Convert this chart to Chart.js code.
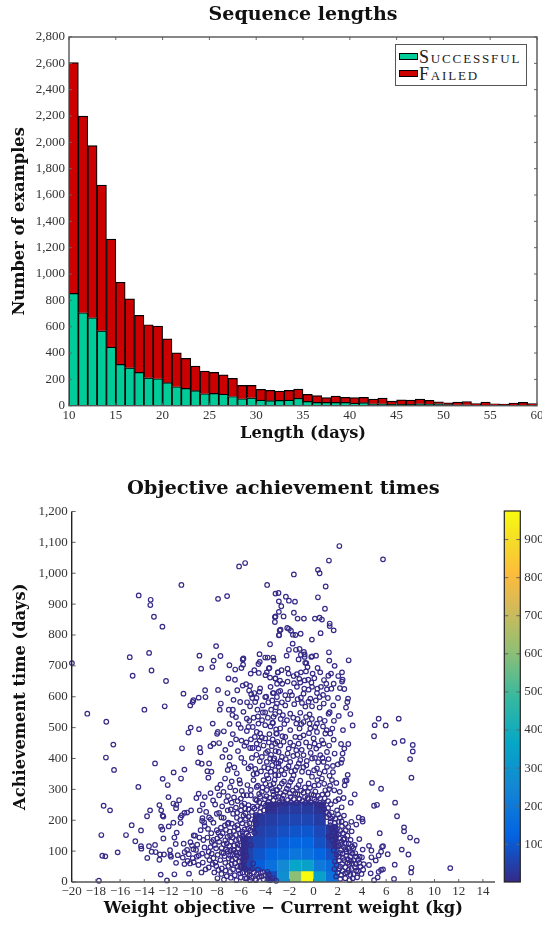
<!DOCTYPE html>
<html>
<head>
<meta charset="utf-8">
<title>Sequence lengths</title>
<script src="https://cdn.jsdelivr.net/npm/chart.js@4/dist/chart.umd.min.js"></script>
<style>
  html, body { margin: 0; padding: 0; background: #fff; overflow: hidden; }
  canvas { position: absolute; }
  #legend {
    position: absolute; left: 395px; top: 44px; width: 130px; height: 40px;
    border: 1px solid #555; background: #fff; padding: 0;
    font: 18px "Liberation Serif", serif; font-variant: small-caps; letter-spacing: 1.85px; color: #222;
  }
  #legend div { position: absolute; left: 3px; height: 20px; line-height: 20px; white-space: nowrap; }
  #legend i { display: inline-block; width: 17px; height: 5px; border: 1px solid #000; margin-right: 1px; vertical-align: 3px; }
</style>
</head>
<body>
<canvas id="lengthsChart" width="542" height="444" style="left:0;top:0;width:542px;height:444px"></canvas>
<div id="legend"></div>
<canvas id="timesChart" width="542" height="459" style="left:0;top:460px;width:542px;height:459px"></canvas>
<canvas id="colorbarChart" width="47" height="381" style="left:495px;top:506px;width:47px;height:381px"></canvas>
<script>
// Sequence lengths (days, bar starts at the value)
const lengthDays = [10,11,12,13,14,15,16,17,18,19,20,21,22,23,24,25,26,27,28,29,30,31,32,33,34,35,36,37,38,39,40,41,42,43,44,45,46,47,48,49,50,51,52,53,54,55,56,57,58,59];
const successful = [853,706,668,569,445,314,288,253,212,205,175,144,131,114,91,93,88,70,53,60,43,38,40,43,56,33,25,25,25,25,20,23,15,15,10,10,10,15,12,15,8,7,7,5,5,3,3,3,5,3];
const failed = [1753,1494,1307,1106,820,623,524,433,403,400,333,258,228,187,172,160,147,137,101,94,81,78,71,73,70,53,51,36,48,38,41,40,35,43,25,35,33,35,28,15,14,21,25,12,23,12,9,17,20,13];
const seriesNames = ["Successful", "Failed"];
const seriesColors = ["#00cc99", "#cc0000"];
const lengthYTicks = [0,200,400,600,800,1000,1200,1400,1600,1800,2000,2200,2400,2600,2800];

// Objective achievement times: [weight difference (kg), time (days)]
const achievementPoints = [
[-19.98,709],[-15.2,728],[-14.96,668],[-14.46,928],[-13.47,914],[-13.5,897],[-13.2,859],[-12.5,827],[-13.6,742],[-13.4,685],[-12.2,651],[-10.93,962],[-10.76,610],[-9.44,733],[-9.3,691],[-8.37,696],[-8.26,717],[-8.06,764],[-7.7,732],[-7.9,917],[-7.15,926],[-6.16,1022],[-5.66,1033],[-3.84,962],[-3.15,934],[-2.9,936],[-2.87,909],[-2.87,875],[-3.2,858],[-3.15,860],[-3.2,842],[-2.8,815],[-2.87,799],[-3.6,770],[-4.47,738],[-4,727],[-3.8,727],[-3.34,727],[-3.3,717],[-4.45,713],[-4.56,706],[-5.8,724],[-5.86,721],[-5.83,704],[-5.97,693],[-5.2,675],[-4.9,686],[-4.53,677],[-3.65,693],[-3.7,692],[-3.87,679],[-3.98,670],[-3.6,662],[-3.15,659],[-2.96,679],[-7.04,659],[-6.5,655],[-5.58,641],[-5.25,635],[-5.33,620],[-5.16,608],[-4.42,627],[-4.47,616],[-4,599],[-3.92,600],[-3.37,612],[-2.9,616],[-7.9,622],[-8.97,621],[-8.94,599],[-9.5,597],[-9.94,589],
[2.13,1088],[5.74,1045],[1.27,1041],[0.36,1011],[0.5,1000],[-1.63,996],[1,957],[-2.29,924],[-2.04,911],[-1.54,908],[0.36,922],[-2.67,893],[-1.63,872],[0.94,885],[-2.48,860],[-1.32,853],[-0.8,853],[0.11,853],[0.5,856],[0.69,850],[1.33,837],[1.33,829],[1.66,815],[0.58,806],[-0.14,785],[-2.18,823],[-2.04,820],[-1.87,814],[-2.73,817],[-2.84,800],[-1.71,801],[-1.5,800],[-1.07,804],[-1.73,772],[-2.04,752],[-1.46,752],[-1.16,755],[-0.8,745],[-2.23,733],[-1.05,736],[-0.74,737],[-0.74,729],[-0.19,729],[-0.13,731],[0.2,733],[-1.24,721],[1.27,744],[1.3,717],[2.9,718],[-0.69,710],[-0.6,709],[1.74,700],[0.33,693],[0.55,679],[1.44,675],[2.35,679],[2.04,667],[2.4,655],[2.35,649],[1.05,642],[0.61,632],[1.1,624],[1.47,626],[2.18,628],[2.54,625],[2.85,594],[-0.08,675],[0.31,626],[0.78,606],[-0.5,696],[-0.63,682],[-1.05,679],[-1.38,673],[-1.65,667],[-2.15,691],[-2.65,686],[-2.95,679],[-2.07,675],[-3.17,659],[-0.44,655],[-0.74,653],[-1.1,646],[-1.38,632],[-2.15,649],[-2.59,642],[-0.77,626],[-0.41,623],[-0.13,632],[-0.83,610],[0.28,612],[-1.93,616],[-2.34,605],[-3.3,612],[-2.76,619],[-1.05,597],[-0.27,594],[0.5,599],[-1.79,605],[-3.03,599],
[-18.71,545],[-17.14,519],[-16.56,445],[-17.17,403],[-16.5,363],[-14.49,308],[-17.36,247],[-16.83,232],[-17.55,152],[-17.47,85],[-17.22,83],[-16.2,96],[-17.75,4],[-15.04,184],[-15.51,152],[-14.27,167],[-14.74,132],[-13.99,558],[-12.31,569],[-10.2,572],[-10,583],[-10.35,484],[-10.16,500],[-9.47,495],[-8.34,513],[-7.92,486],[-7.98,480],[-7.81,450],[-8.28,448],[-8.53,440],[-10.88,433],[-9.41,434],[-9.36,420],[-7.54,405],[-6.93,404],[-13.11,384],[-9.55,387],[-9.25,383],[-8.64,384],[-6.96,379],[-10.68,364],[-11.57,355],[-8.78,359],[-8.45,357],[-7.1,363],[-8.7,338],[-12.48,334],[-10.96,335],[-12.06,314],[-7.7,315],[-7.95,304],[-6.9,307],[-9.5,286],[-9.69,272],[-9,275],[-7.81,281],[-12,275],[-11.12,265],[-11.59,254],[-11.35,250],[-11.37,239],[-12.75,249],[-12.6,232],[-13.52,232],[-13.77,213],[-12.48,215],[-12.42,212],[-9.17,251],[-8.14,251],[-7.56,245],[-10.9,216],[-10.68,224],[-11,209],[-10.46,225],[-10.13,232],[-8,221],[-7.81,224],[-7.1,232],[-6.85,235],[-6.65,221],[-6.32,224],[-9.19,207],[-9.22,198],[-8.64,209],[-8.5,203],[-7.62,209],[-7.43,208],[-11,191],[-11.59,192],[-9.05,193],[-8.28,192],[-7.04,192],[-9,181],[-12.61,179],[-12.5,170],[-11.98,180],[-11.32,160],[-11.51,144],[-12.42,141],[-11.4,123],[-10.74,124],[-13.61,116],[-13.11,120],[-14.27,116],[-14.24,108],[-13.39,98],[-13.06,97],[-13.75,78],[-12.75,72],[-12.7,89],[-12.37,89],[-11.87,103],[-11.84,87],[-11.79,82],[-11.23,87],[-11.37,62],[-10.82,79],[-10.68,58],[-10.32,90],[-10.18,129],[-9.91,151],[-9.8,150],[-9.94,106],[-9.99,77],[-9.66,82],[-9.5,86],[-10.21,60],[-9.91,64],[-9.52,55],[-12.64,24],[-11.51,25],[-12.12,5],[-10.3,27],[-9.27,31],[-9.44,144],[-9.11,136],[-8.78,144],[-8.42,130],[-8.06,109],[-8.67,98],[-8.61,71],[-8.28,77],[-8.34,58],[-8.67,47],[-7.87,39],[-7.59,44],[-7.45,93],[-8,168],[-7.87,160],[-7.7,149],[-7.18,125],[-8.28,136],[-7.18,19],[-6.9,33],[-6.74,71],[-6.63,103],[-6.41,136],[-7.1,188],[-6.3,184],[-6.08,157],[-6.24,109],[-6.07,82],[-6.3,50],[-6.07,28],[-5.66,12],[-5.25,6],[-4.83,9],
[-7.76,558],[-7.67,578],[-7.01,558],[-6.68,558],[-6.71,541],[-6.07,583],[-5.25,569],[-4.83,583],[-4.64,558],[-4.2,549],[-4,549],[-3.51,558],[-2.82,551],[-5.52,529],[-6.21,511],[-6.02,499],[-5.52,489],[-5.39,502],[-5.03,502],[-4.56,513],[-4,508],[-3.4,516],[-6.68,479],[-4.7,486],[-4.42,481],[-4.28,468],[-4,465],[-3.65,479],[-5.25,434],[-5.05,434],[-4.7,448],[-4.56,432],[-3.78,424],[-3.45,440],[-3.04,481],[-3.1,494],[-2.98,454],[-5.72,386],[-4.45,391],[-3.87,389],[-3.59,400],[-3.32,395],[-5.38,368],[-5.19,375],[-4.97,349],[-4.7,351],[-6.13,330],[-6.08,319],[-5.47,314],[-5.19,298],[-4.97,330],[-4.7,308],[-5.94,295],[-5.8,281],[-5.52,281],[-5.19,281],[-6.02,270],[-5.72,254],[-5.38,249],[-5.66,238],[-5.03,244],[-4.7,265],[-4.42,276],[-4.14,330],[-3.73,335],[-3.87,346],[-3.54,357],[-3.18,362],[-2.9,346],[-2.9,384],[-3.87,298],[-3.45,303],[-3.04,298],[-4.14,254],[-3.73,260],[-3.32,265],[-2.9,276],[-5.38,211],[-5.1,227],[-4.75,217],[-4.42,227],
[2.79,583],[2.68,565],[3.04,544],[5.38,529],[7.04,529],[5.05,508],[5.96,507],[3.23,507],[5,472],[2.43,492],[1.55,497],[6.68,451],[7.37,457],[8.2,444],[8.2,423],[7.98,398],[8.09,338],[2.87,447],[2.27,447],[2.54,432],[2.4,416],[1.66,461],[1.74,416],[2.35,397],[2.27,386],[2,381],[1.6,376],[1.6,356],[2.82,347],[2.73,329],[2.6,328],[1.88,321],[2.57,313],[1.52,330],[1.71,297],[1.16,285],[4.83,321],[5.58,302],[3.4,284],[3.07,257],[5,247],[5.24,250],[6.74,257],[6.9,213],[2.51,215],[2.02,219],[3.73,209],[4.03,204],[4.06,196],[3.12,195],[3.53,186],[2.35,181],[2.07,195],[1.8,179],[1.38,184],[3.15,164],[5.47,158],[7.48,177],[7.48,164],[7.98,144],[8.53,134],[3.78,139],[2.57,141],[2.07,155],[1.47,149],[3.18,115],[4.58,117],[4.78,102],[4.06,105],[5.66,114],[5.74,116],[5.58,98],[7.29,105],[6.13,90],[5.38,86],[7.84,89],[4.78,80],[5.14,70],[6.71,56],[8.09,46],[8.06,31],[11.3,45],[4.58,55],[5.74,41],[5.58,39],[5.38,33],[4.72,28],[5.3,15],[5,6],[6.65,10],[4.14,58],[3.81,82],[3.45,93],[3.31,71],[3.04,82],[3.87,50],[3.53,37],[3.18,60],[2.9,39],[3.04,23],[2.62,12],[2.27,23],[2.21,50],[2.54,71],[2.07,82],[1.66,103],[2.27,103],[2.71,98],[1.93,130],[1.52,136],[1.24,147],[2.98,6],[2.49,114],
[-3.03,578],[-2.34,572],[-1.6,576],[-0.96,580],[-0.13,569],[0.5,565],[1.33,550],[1.24,545],[-1.93,545],[-1.1,548],[-0.33,543],[-2.54,540],[-3.31,535],[-3.36,515],[-2.2,524],[-1.43,513],[-0.83,518],[-0.33,513],[0.28,513],[0.78,504],[-2.76,497],[-1.93,492],[-1.16,497],[-0.27,497],[0.28,486],[0.97,481],[1.38,481],[-3.09,481],[-2.34,470],[-1.51,470],[-0.83,475],[0,465],[0.69,459],[-3.17,448],[-2.48,454],[-1.93,451],[-1.24,448],[-0.33,438],[0.22,432],[1.11,421],[-2.89,421],[-2.15,416],[-1.43,427],[-0.83,411],[0.55,411],[-3.25,400],[-2.62,405],[-1.93,389],[-1.1,395],[-0.13,400],[0.83,389],[-2.89,373],[-2.07,375],[-1.38,373],[-0.6,378],[0.28,368],[1.11,373],[-3.17,346],[-2.42,349],[-1.65,346],[-0.96,357],[-0.13,341],[0.69,335],[-3.31,319],[-2.62,319],[-1.93,324],[-1.24,314],[-0.41,319],[0.42,314],[0.97,297],[-3.03,298],[-2.34,292],[-1.51,287],[-0.83,289],[0,281],[0.55,271],
[-4.5,285],[-3.9,278],[-3.3,283],[-2.6,270],[-1.9,275],[-1.2,268],[-0.5,272],[0.2,262],[0.8,255],[1.2,262],[-5.6,205],[-5.9,190],[-6.6,165],[-6.9,150],[-7.3,135],[-7.6,110],[-7.1,100],[-6.9,85],[-7.3,62],[-6.5,60],[-5.9,65],[-5.6,40],[-5.3,22],[-4.7,25],[-4.3,18],[-3.8,8],[-5.7,170],[-5.4,150],[-5.8,130],[-6.1,118],[-5.9,100],[-5.6,88],[-5.3,190],[-5,175],[-4.9,160],[-5.2,120],[-5,60],[-4.6,40],[-4.2,32],[-3.7,25],[-3.4,12],[-3.1,4],
[1.2,240],[1.5,225],[1.1,210],[1.8,205],[1.4,195],[2.2,165],[1.9,150],[2.8,150],[2.3,130],[2.9,125],[3.4,120],[2.7,85],[3.3,110],[2.4,92],[3,100],[3.7,72],[4,80],[3.5,58],[2.8,62],[2.4,36],[2.6,28],[3.3,25],[2.2,10],[3.6,15],[4.1,40],[1.9,115],[2.1,70],[1.9,55],[2,30],
// left side of the dense part
[-7.95,12],[-7.62,26],[-7.41,8],[-7.28,37],[-7.05,52],[-6.84,14],[-6.66,41],[-6.52,22],[-6.38,6],[-6.21,38],[-6.02,15],[-5.87,31],[-5.74,48],[-5.47,29],[-5.92,54],[-6.13,66],[-6.47,77],[-6.78,58],[-7.02,76],[-7.36,84],[-7.71,71],[-7.93,88],[-8.12,63],[-7.58,96],[-7.24,105],[-6.97,117],[-6.71,88],[-6.44,95],[-6.29,122],[-6.02,93],[-5.83,79],[-5.66,111],[-6.55,118],[-6.82,131],[-7.11,146],[-7.43,122],[-7.81,130],[-8.16,120],[-7.97,141],[-7.52,158],[-7.24,169],[-6.93,163],[-6.68,144],[-6.42,152],[-6.17,139],[-5.91,147],[-5.69,135],[-5.88,163],[-6.24,171],[-6.51,178],[-6.76,189],[-7.33,183],[-7.66,176],[-6.06,201],[-6.34,208],[-5.79,215],[-5.52,186],[-5.62,222],[-6.01,232],[-6.42,241],[-6.77,257],[-7.21,262],[-6.58,274],[-6.28,262],[-5.93,247],[-5.38,236],[-5.11,203],[-4.86,199],[-4.74,188],[-5.22,168],[-5.41,172],[-5.57,158],[-8.42,92],[-8.53,113],[-8.21,31],[-8.05,52],[-8.81,84],[-9.02,112],[-9.21,92],[-9.16,63],[-8.93,41],[-8.46,158],[-8.73,172],[-9.34,168],[-9.62,121],[-9.72,104],[-10.05,118],[-10.46,104],[-10.66,97],[-10.42,68],[-8.88,227],[-9.41,232],[-8.31,264],[-8.52,288],[-7.45,292],[-7.08,278],[-6.47,296],[-6.77,326],[-7.32,335],[-6.35,352],[-6.55,371],[-5.98,402],[-6.25,424],[-5.72,441],[-5.96,458],[-6.41,462],[-6.85,447],[-7.3,428],[-7.42,488],[-6.95,512],[-6.42,534],[-5.8,551],[-5.5,582],[-5.07,596],[-6.62,590],[-7.12,612],[-6.31,621],[-5.86,636],[-6.48,688],[-6.96,702],
[-5.14,14],[-4.92,31],[-4.76,6],[-4.52,17],[-4.36,29],[-4.14,9],[-3.98,21],[-3.82,33],[-3.58,6],[-5.52,12],[-5.31,36],[-5.08,42],[-5.72,68],[-5.58,82],[-5.82,94],[-5.64,102],[-5.78,118],[-5.62,126],[-5.84,141],[-6.05,48],[-6.32,86],[-6.58,104],[-6.86,102],
// top of the bell
[-4.9,238],[-4.62,246],[-4.38,241],[-4.12,232],[-3.94,248],[-3.71,238],[-3.46,251],[-3.28,240],[-3.06,252],[-2.84,257],[-2.58,262],[-2.35,254],[-2.12,266],[-1.88,258],[-1.64,268],[-1.41,256],[-1.18,270],[-0.92,262],[-0.68,256],[-0.44,268],[-0.22,258],[0.06,268],[0.34,252],[0.62,248],[0.88,236],[1.04,226],[1.28,218],[1.42,206],[-4.82,268],[-4.48,258],[-4.28,292],[-4.02,268],[-3.62,272],[-3.36,294],[-3.12,276],[-2.76,288],[-2.48,281],[-2.21,302],[-1.96,287],[-1.72,296],[-1.34,284],[-1.04,296],[-0.71,276],[-0.46,292],[-0.18,284],[0.15,293],[0.38,279],[0.72,283],[0.92,271],[-4.6,312],[-4.22,306],[-3.98,318],[-3.58,314],[-3.22,331],[-2.82,308],[-2.45,326],[-2.07,312],[-1.78,333],[-1.42,305],[-1.1,328],[-0.72,306],[-0.3,305],[0.07,312],[0.31,330],[0.88,318],[1.28,301],[1.36,312],
// upper middle
[-4.82,366],[-4.35,358],[-4.08,372],[-3.76,368],[-3.42,378],[-3.08,385],[-2.66,362],[-2.28,368],[-1.84,358],[-1.53,362],[-1.22,384],[-0.84,372],[-0.42,355],[0.04,362],[0.48,352],[0.92,358],[1.32,344],[-5.1,402],[-4.72,412],[-4.28,405],[-3.94,418],[-3.52,412],[-3.14,424],[-2.74,392],[-2.3,398],[-1.68,408],[-1.34,412],[-0.98,428],[-0.56,392],[-0.24,418],[0.12,402],[0.38,388],[0.74,402],[1.24,398],[-5.56,452],[-5.18,462],[-4.86,470],[-4.46,458],[-4.14,442],[-3.7,452],[-3.38,462],[-2.76,442],[-2.58,472],[-2.06,432],[-1.68,442],[-1.12,468],[-0.62,452],[-0.38,482],[0.08,448],[0.44,442],[0.82,448],[1.28,442],[-5.32,522],[-4.96,532],[-4.6,536],[-4.26,524],[-3.78,532],[-3.56,504],[-3.18,544],[-2.72,528],[-2.42,512],[-1.68,532],[-1.32,528],[-1.02,512],[-0.62,534],[-0.14,528],[0.14,502],[0.52,528],[0.92,522],[1.08,492],[1.68,522],[2.08,538],[-4.9,612],[-4.72,596],[-4.22,572],[-3.74,582],[-3.42,588],[-3.12,566],[-2.62,582],[-2.12,592],[-1.32,592],[-0.68,568],[-0.42,584],[0.18,588],[0.84,578],[1.18,596],[1.62,572],[2.02,596],[-3.56,632],[-3.02,642],[-2.78,652],[-1.62,644],[-1.18,658],[-0.18,646],[0.06,660],[0.86,654],[1.22,668],[1.66,642],
// right of the bell
[1.72,42],[1.86,18],[2.12,42],[2.36,58],[2.62,48],[2.78,30],[2.96,58],[3.14,42],[3.24,12],[3.42,48],[3.68,34],[3.78,62],[3.96,26],[1.76,66],[1.92,88],[2.18,94],[2.44,78],[2.62,106],[2.84,74],[3.08,68],[3.22,92],[3.52,82],[1.74,122],[2.06,118],[2.28,122],[2.46,138],[2.68,124],[2.92,108],[3.06,136],[1.62,162],[1.84,138],[2.12,142],[2.42,158],[2.66,168],[1.52,172],[1.94,172],[2.32,196],[2.64,188],[2.86,178],[1.76,192],[2.18,208],[1.58,212],[1.94,232],[2.32,242],[1.42,252],[2.06,268],[1.82,262],[2.48,272],[2.16,292]
];

// density cells: bin centres and counts read from the colours (0 = no solid cell)
const cellXs = [-5.5,-4.5,-3.5,-2.5,-1.5,-0.5,0.5,1.5];
const cellYs = [18,55,92,129,166,203,240];
const cellCounts = [
  [0,0,70,280,600,975,340,180],
  [60,110,170,260,360,340,200,150],
  [50,90,130,150,190,170,130,80],
  [35,60,85,110,130,130,85,40],
  [0,45,60,80,90,95,65,30],
  [0,30,40,55,60,60,40,0],
  [0,0,20,30,35,35,20,0]
];

const colorbarTicks = [100,200,300,400,500,600,700,800,900];
const colorbarMin = 1;
const colorbarMax = 975;
const parulaStops = [[0,53,42,135],[0.125,3,99,225],[0.25,20,133,212],[0.375,6,167,198],[0.5,56,185,158],[0.625,146,191,115],[0.75,217,186,86],[0.83,252,188,60],[0.92,245,220,40],[1,249,251,14]];

function parula(v) {
  const t = (v - colorbarMin) / (colorbarMax - colorbarMin);
  for (let i = 1; i < parulaStops.length; i++) {
    const a = parulaStops[i - 1], b = parulaStops[i];
    if (t <= b[0]) {
      const k = (t - a[0]) / (b[0] - a[0]);
      const c = [1, 2, 3].map((j) => Math.round(a[j] + (b[j] - a[j]) * k));
      return `rgb(${c[0]},${c[1]},${c[2]})`;
    }
  }
  return "rgb(249,251,14)";
}

const serif = "'Liberation Serif', serif";
const titleFamily = "'DejaVu Serif', serif";
const axisTitleFont = { size: 16.3, weight: "bold", family: titleFamily, lineHeight: 1.2 };

// Chart.js ticks only point outwards, the original has them inside the frame
function drawTicks(ctx, scale, area, sides, len) {
  scale.ticks.forEach((t) => {
    const p = scale.getPixelForValue(t.value);
    ctx.beginPath();
    if (scale.isHorizontal()) {
      if (sides.includes("bottom")) { ctx.moveTo(p, area.bottom); ctx.lineTo(p, area.bottom - len); }
      if (sides.includes("top")) { ctx.moveTo(p, area.top); ctx.lineTo(p, area.top + len); }
    } else {
      if (sides.includes("left")) { ctx.moveTo(area.left, p); ctx.lineTo(area.left + len, p); }
      if (sides.includes("right")) { ctx.moveTo(area.right, p); ctx.lineTo(area.right - len, p); }
    }
    ctx.stroke();
  });
}

const framePlugin = {
  id: "frame",
  afterDatasetsDraw(chart) {
    const { ctx, chartArea: a } = chart;
    ctx.save();
    ctx.strokeStyle = "#666";
    ctx.lineWidth = 1;
    drawTicks(ctx, chart.scales.x, a, ["bottom", "top"], 3);
    drawTicks(ctx, chart.scales.y, a, ["left", "right"], 3);
    ctx.strokeStyle = "#555";
    ctx.lineWidth = 1.4;
    ctx.strokeRect(a.left, a.top, a.right - a.left, a.bottom - a.top);
    ctx.restore();
  },
};

const axesPlugin = {
  id: "axes",
  afterDatasetsDraw(chart) {
    const { ctx, chartArea: a } = chart;
    ctx.save();
    ctx.strokeStyle = "#666";
    ctx.lineWidth = 1;
    drawTicks(ctx, chart.scales.x, a, ["bottom"], 3);
    drawTicks(ctx, chart.scales.y, a, ["left"], 4);
    ctx.lineWidth = 1.4;
    ctx.strokeStyle = "#222";
    ctx.beginPath();
    ctx.moveTo(a.left, a.top);
    ctx.lineTo(a.left, a.bottom);
    ctx.stroke();
    ctx.strokeStyle = "#555";
    ctx.beginPath();
    ctx.moveTo(a.left, a.bottom);
    ctx.lineTo(a.right, a.bottom);
    ctx.stroke();
    ctx.restore();
  },
};

const colorbarFrame = {
  id: "colorbarFrame",
  afterDatasetsDraw(chart) {
    const { ctx, chartArea: a } = chart;
    ctx.save();
    ctx.strokeStyle = "#666";
    ctx.lineWidth = 1;
    drawTicks(ctx, chart.scales.y, a, ["left", "right"], 4);
    ctx.strokeStyle = "#222";
    ctx.lineWidth = 1.2;
    ctx.strokeRect(a.left, a.top, a.right - a.left, a.bottom - a.top);
    ctx.restore();
  },
};

// keep the plot areas where the original has them
function pin(size) {
  return (scale) => {
    if (scale.isHorizontal()) scale.height = size;
    else scale.width = size;
    scale.paddingLeft = scale.paddingRight = scale.paddingTop = scale.paddingBottom = 0;
  };
}

new Chart(document.getElementById("lengthsChart"), {
  type: "bar",
  data: {
    datasets: [
      {
        label: seriesNames[0],
        data: lengthDays.map((d, i) => ({ x: d + 0.5, y: successful[i] })),
        backgroundColor: seriesColors[0],
      },
      {
        label: seriesNames[1],
        data: lengthDays.map((d, i) => ({ x: d + 0.5, y: failed[i] })),
        backgroundColor: seriesColors[1],
      },
    ].map((d) => ({ ...d, borderColor: "#000", borderWidth: 1.2, categoryPercentage: 1, barPercentage: 1 })),
  },
  options: {
    responsive: false,
    animation: false,
    layout: { padding: { left: 0, right: 5, top: 0, bottom: 0 } },
    plugins: {
      legend: { display: false },
      tooltip: { enabled: false },
      title: {
        display: true,
        text: "Sequence lengths",
        fullSize: false,
        color: "#111",
        padding: { top: 4, bottom: 10.2 },
        font: { size: 19, weight: "bold", family: titleFamily, lineHeight: 1.2 },
      },
    },
    scales: {
      x: {
        type: "linear",
        stacked: true,
        offset: false,
        min: 10,
        max: 60,
        afterFit: pin(38.3),
        grid: { display: false, drawTicks: false },
        border: { display: false },
        ticks: { stepSize: 5, padding: 2, maxRotation: 0, font: { size: 13, family: serif }, color: "#333" },
        title: { display: true, text: "Length (days)", color: "#111", padding: 0, font: axisTitleFont },
      },
      y: {
        stacked: true,
        min: 0,
        max: 2800,
        afterFit: pin(69),
        afterBuildTicks: (s) => { s.ticks = lengthYTicks.map((value) => ({ value })); },
        grid: { display: false, drawTicks: false },
        border: { display: false },
        ticks: { padding: 4, callback: (v) => v.toLocaleString("en-US"), font: { size: 13, family: serif }, color: "#333" },
        title: { display: true, text: "Number of examples", color: "#111", padding: { top: 10, bottom: 10 }, font: axisTitleFont },
      },
    },
  },
  plugins: [framePlugin],
});

// legend
document.getElementById("legend").innerHTML = seriesNames
  .map((n, i) => `<div style="top:${i * 17 + 2}px"><i style="background:${seriesColors[i]}"></i>${n}</div>`)
  .join("");

const cellPoints = [];
const cellColors = [];
cellYs.forEach((y, r) => {
  cellXs.forEach((x, c) => {
    if (cellCounts[r][c] > 0) {
      cellPoints.push({ x, y });
      cellColors.push(parula(cellCounts[r][c]));
    }
  });
});

new Chart(document.getElementById("timesChart"), {
  type: "scatter",
  data: {
    datasets: [
      {
        label: "examples",
        data: achievementPoints.map((p) => ({ x: p[0], y: p[1] })),
        pointStyle: "circle",
        pointRadius: 2.3,
        borderWidth: 1.2,
        borderColor: "rgb(53,42,135)",
        backgroundColor: "rgba(0,0,0,0)",
        clip: false,
      },
      {
        label: "density",
        data: cellPoints,
        pointStyle: "rect",
        pointRadius: 8.7,
        borderWidth: 0,
        backgroundColor: cellColors,
        borderColor: cellColors,
      },
    ],
  },
  options: {
    responsive: false,
    animation: false,
    layout: { padding: { left: 0, right: 47, top: 0, bottom: 0 } },
    plugins: {
      legend: { display: false },
      tooltip: { enabled: false },
      title: {
        display: true,
        text: "Objective achievement times",
        fullSize: false,
        color: "#111",
        padding: { top: 17.6, bottom: 10.6 },
        font: { size: 19.4, weight: "bold", family: titleFamily, lineHeight: 1.2 },
      },
    },
    scales: {
      x: {
        type: "linear",
        min: -20,
        max: 15,
        afterFit: pin(37),
        grid: { display: false, drawTicks: false },
        border: { display: false },
        ticks: { stepSize: 2, includeBounds: false, padding: 2, maxRotation: 0, autoSkip: false, callback: (v) => String(v).replace("-", "\u2212"), font: { size: 13, family: serif }, color: "#333" },
        title: { display: true, text: "Weight objective \u2212 Current weight (kg)", color: "#111", padding: 0, font: axisTitleFont },
      },
      y: {
        min: 0,
        max: 1200,
        afterFit: pin(71.7),
        grid: { display: false, drawTicks: false },
        border: { display: false },
        ticks: { stepSize: 100, padding: 4, autoSkip: false, callback: (v) => v.toLocaleString("en-US"), font: { size: 13, family: serif }, color: "#333" },
        title: { display: true, text: "Achievement time (days)", color: "#111", padding: { top: 11, bottom: 11 }, font: axisTitleFont },
      },
    },
  },
  plugins: [axesPlugin],
});

new Chart(document.getElementById("colorbarChart"), {
  type: "bar",
  data: {
    labels: ["count"],
    datasets: [
      {
        data: [[colorbarMin, colorbarMax]],
        categoryPercentage: 1,
        barPercentage: 1,
        backgroundColor: (c) => {
          if (!c.chart.chartArea) return parula(colorbarMin);
          const y = c.chart.scales.y;
          const g = c.chart.ctx.createLinearGradient(0, y.getPixelForValue(colorbarMin), 0, y.getPixelForValue(colorbarMax));
          parulaStops.forEach((s) => g.addColorStop(s[0], `rgb(${s[1]},${s[2]},${s[3]})`));
          return g;
        },
      },
    ],
  },
  options: {
    responsive: false,
    animation: false,
    layout: { padding: { left: 9.3, right: 0, top: 5, bottom: 5 } },
    plugins: { legend: { display: false }, tooltip: { enabled: false } },
    scales: {
      x: { display: false },
      y: {
        position: "right",
        min: colorbarMin,
        max: colorbarMax,
        afterFit: pin(21.7),
        afterBuildTicks: (s) => { s.ticks = colorbarTicks.map((value) => ({ value })); },
        grid: { display: false, drawTicks: false },
        border: { display: false },
        ticks: { padding: 4, font: { size: 13, family: serif }, color: "#333" },
      },
    },
  },
  plugins: [colorbarFrame],
});
</script>
</body>
</html>
